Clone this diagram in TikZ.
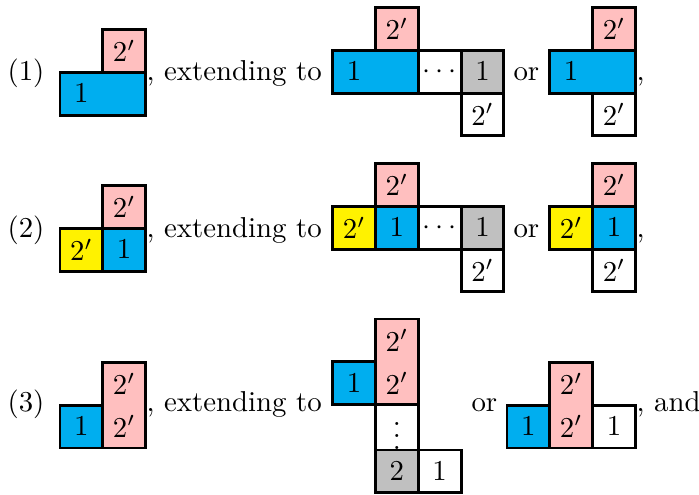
\documentclass[tikz,border=0pt]{standalone}
\usepackage{tikz}
\definecolor{tblue}{RGB}{0,174,239}
\definecolor{tpink}{RGB}{255,191,191}
\definecolor{tyellow}{RGB}{255,242,0}
\definecolor{tgray}{RGB}{192,192,192}
\newcommand\ycell[3]{\filldraw[cellbox,fill=#3] (#1,#2) rectangle ++(42.8,42.8);}
\begin{document}
\begin{tikzpicture}[x=0.3472pt,y=-0.3472pt,
  cellbox/.style={draw=black,line width=1pt},
  lbl/.style={inner sep=0pt,anchor=center},
  txt/.style={inner sep=0pt,anchor=base west}]
\useasboundingbox (0,0) rectangle (699,494);
% ---------- Row 1 ----------
\ycell{102.8}{29.5}{tpink}
\filldraw[cellbox,fill=tblue] (60,72.3) rectangle (145.6,115.1);
\node[lbl] (r1sp) at (124.2,50.9) {$2'$};
\node[lbl] (r1sb) at (81.4,93.7) {$1$};
\node[txt] (r1n) at (7,80.5) {(1)};
\node[txt] (r1t) at (146,80.5) {, extending to};
% A
\ycell{375.5}{7.5}{tpink}
\filldraw[cellbox,fill=tblue] (332.7,50.3) rectangle (418.3,93.1);
\ycell{418.3}{50.3}{white}
\ycell{461.1}{50.3}{tgray}
\ycell{461.1}{93.1}{white}
\node[lbl] (r1ap) at (396.9,28.9) {$2'$};
\node[lbl] (r1ab) at (354.1,71.7) {$1$};
\node[lbl] (r1ad) at (439.7,71.7) {$\cdots$};
\node[lbl] (r1ag) at (482.5,71.7) {$1$};
\node[lbl] (r1aw) at (482.5,114.5) {$2'$};
\node[txt] (r1or) at (513,80.5) {or};
% B
\ycell{592.6}{7.5}{tpink}
\filldraw[cellbox,fill=tblue] (549.8,50.3) rectangle (635.4,93.1);
\ycell{592.6}{93.1}{white}
\node[lbl] (r1bp) at (614,28.9) {$2'$};
\node[lbl] (r1bb) at (571.2,71.7) {$1$};
\node[lbl] (r1bw) at (614,114.5) {$2'$};
\node[txt] (r1c) at (636,80.5) {,};
% ---------- Row 2 ----------
\ycell{102.8}{185.5}{tpink}
\ycell{60}{228.3}{tyellow}
\ycell{102.8}{228.3}{tblue}
\node[lbl] (r2sp) at (124.2,206.9) {$2'$};
\node[lbl] (r2sy) at (81.4,249.7) {$2'$};
\node[lbl] (r2sb) at (124.2,249.7) {$1$};
\node[txt] (r2n) at (7,237) {(2)};
\node[txt] (r2t) at (146,237) {, extending to};
% A
\ycell{375.5}{163.5}{tpink}
\ycell{332.7}{206.3}{tyellow}
\ycell{375.5}{206.3}{tblue}
\ycell{418.3}{206.3}{white}
\ycell{461.1}{206.3}{tgray}
\ycell{461.1}{249.1}{white}
\node[lbl] (r2ap) at (396.9,184.9) {$2'$};
\node[lbl] (r2ay) at (354.1,227.7) {$2'$};
\node[lbl] (r2ab) at (396.9,227.7) {$1$};
\node[lbl] (r2ad) at (439.7,227.7) {$\cdots$};
\node[lbl] (r2ag) at (482.5,227.7) {$1$};
\node[lbl] (r2aw) at (482.5,270.5) {$2'$};
\node[txt] (r2or) at (513,237) {or};
% B
\ycell{592.6}{163.5}{tpink}
\ycell{549.8}{206.3}{tyellow}
\ycell{592.6}{206.3}{tblue}
\ycell{592.6}{249.1}{white}
\node[lbl] (r2bp) at (614,184.9) {$2'$};
\node[lbl] (r2by) at (571.2,227.7) {$2'$};
\node[lbl] (r2bb) at (614,227.7) {$1$};
\node[lbl] (r2bw) at (614,270.5) {$2'$};
\node[txt] (r2c) at (636,237) {,};
% ---------- Row 3 ----------
\filldraw[cellbox,fill=tpink] (102.8,362.4) rectangle (145.6,448);
\ycell{60}{405.2}{tblue}
\node[lbl] (r3sp1) at (124.2,383.8) {$2'$};
\node[lbl] (r3sp2) at (124.2,426.6) {$2'$};
\node[lbl] (r3sb) at (81.4,426.6) {$1$};
\node[txt] (r3n) at (7,411.5) {(3)};
\node[txt] (r3t) at (146,411.5) {, extending to};
% A
\filldraw[cellbox,fill=tpink] (375.5,319) rectangle (418.3,404.6);
\ycell{332.7}{361.8}{tblue}
\draw[cellbox] (375.5,404.6) -- (375.5,450) (418.3,404.6) -- (418.3,450);
\ycell{375.5}{450}{tgray}
\ycell{418.3}{450}{white}
\node[lbl] (r3ap1) at (396.9,340.4) {$2'$};
\node[lbl] (r3ap2) at (396.9,383.2) {$2'$};
\node[lbl] (r3ab) at (354.1,383.2) {$1$};
\node[lbl] (r3av) at (396.9,427.3) {$\vdots$};
\node[lbl] (r3ag) at (396.9,471.4) {$2$};
\node[lbl] (r3aw) at (439.7,471.4) {$1$};
\node[txt] (r3or) at (471,411.5) {or};
% B
\filldraw[cellbox,fill=tpink] (549.8,362.4) rectangle (592.6,448);
\ycell{507}{405.2}{tblue}
\ycell{592.6}{405.2}{white}
\node[lbl] (r3bp1) at (571.2,383.8) {$2'$};
\node[lbl] (r3bp2) at (571.2,426.6) {$2'$};
\node[lbl] (r3bb) at (528.4,426.6) {$1$};
\node[lbl] (r3bw) at (614,426.6) {$1$};
\node[txt] (r3c) at (636,411.5) {, and};
\end{tikzpicture}
\end{document}
